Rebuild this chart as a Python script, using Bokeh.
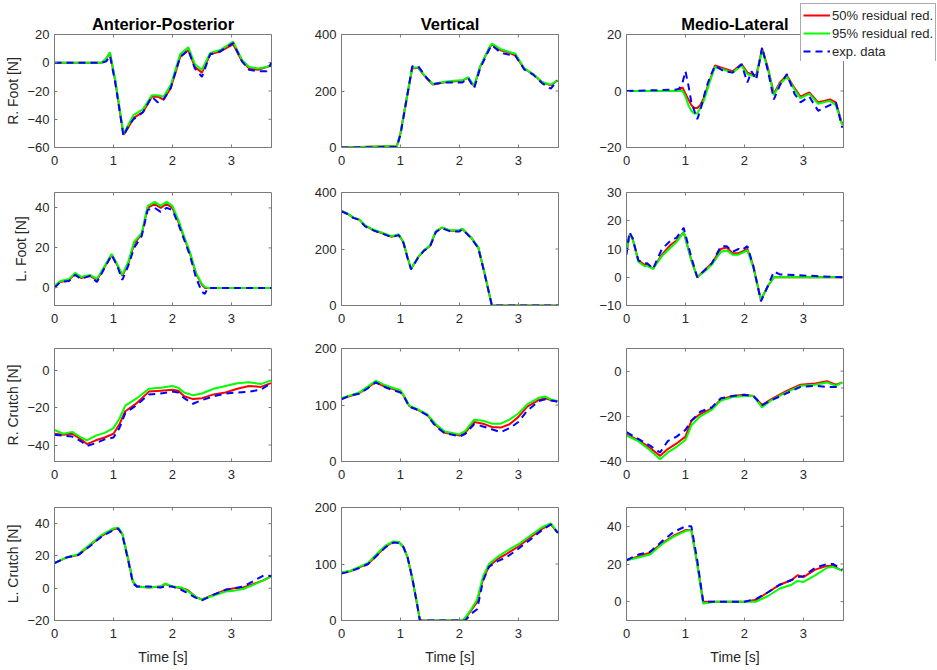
from bokeh.plotting import figure
from bokeh.layouts import column, row
from bokeh.models import Range1d, FixedTicker, Legend, LegendItem, GridBox
from bokeh.embed import file_html
from bokeh.resources import INLINE

# ---------------- data ----------------
COL_TITLES = ["Anterior-Posterior", "Vertical", "Medio-Lateral"]
ROW_LABELS = ["R. Foot [N]", "L. Foot [N]", "R. Crutch [N]", "L. Crutch [N]"]
SERIES_NAMES = ["50% residual red.", "95% residual red.", "exp. data"]
X_TICKS = [0, 1, 2, 3]
X_MAX = 3.68

# Row 1: R. Foot
T_AP_RF = [0, 0.8, 0.88, 0.94, 1.03, 1.17, 1.25, 1.34, 1.5, 1.65, 1.75, 1.85, 1.97, 2.13, 2.27, 2.38, 2.5, 2.64, 2.81, 3.03, 3.18, 3.3, 3.45, 3.6, 3.68]
RED_AP_RF = [0, 0, 3, 7, -13, -51, -46, -39, -35, -24, -24, -26, -18, 4, 9, -3, -7, 6, 8, 13, 1, -4, -5, -3, -2]
GRN_AP_RF = [0, 0, 3, 7.5, -12, -50, -44, -37, -33, -23, -23, -24, -16, 6, 11, -1, -5, 7, 9, 15, 2, -3, -4, -3, -1.5]
EXP_AP_RF = [0, 0, 1, 5, -14, -52, -45, -40, -35, -24, -28, -26, -18, 4, 9, -4, -10, 6, 8, 14, 1, -5, -6, -6, 0]

T_V_RF = [0, 0.94, 1.0, 1.1, 1.2, 1.3, 1.45, 1.55, 1.75, 1.9, 2.05, 2.15, 2.25, 2.35, 2.5, 2.55, 2.7, 2.85, 2.95, 3.1, 3.25, 3.4, 3.55, 3.66]
RED_V_RF = [0, 5, 50, 168, 280, 282, 243, 223, 231, 234, 237, 247, 216, 285, 350, 365, 344, 335, 325, 279, 259, 231, 220, 237]
GRN_V_RF = [0, 5, 50, 170, 283, 283, 245, 225, 233, 236, 238, 248, 218, 287, 352, 368, 348, 338, 332, 280, 260, 232, 222, 238]
EXP_V_RF = [0, 2, 45, 165, 288, 288, 245, 224, 230, 230, 230, 245, 210, 280, 345, 362, 335, 328, 325, 276, 258, 228, 208, 237]

T_ML_RF = [0, 0.85, 0.9, 0.95, 1.0, 1.05, 1.1, 1.15, 1.2, 1.25, 1.3, 1.35, 1.4, 1.5, 1.65, 1.8, 1.95, 2.05, 2.12, 2.2, 2.3, 2.4, 2.5, 2.6, 2.72, 2.85, 2.95, 3.1, 3.25, 3.35, 3.45, 3.55, 3.66]
RED_ML_RF = [0, 0, 0.5, 1.3, -1, -3, -5, -6, -6, -5, -3, 0, 3, 9, 8, 7, 9.5, 6.5, 6, 5.5, 15, 8, -1, 3, 5.5, 1, -2, -0.5, -4, -3.5, -3, -4, -12]
GRN_ML_RF = [0, 0, 0, 0, -2, -5, -7, -8, -8, -6, -4, -1, 2.5, 8.5, 7.5, 6.5, 9, 6, 5.5, 5, 14.5, 7.5, -1.5, 2.5, 5, 0.5, -2.5, -1, -4.5, -4, -3.5, -5, -12]
EXP_ML_RF = [0, 0.5, 1, 3, 7, 2, -4, -7, -10, -7, -3, 1, 4, 9, 7, 6.5, 9.5, 3, 7, 4, 15.5, 7, -3, 2, 6, -1, -4, -2, -7, -6, -5, -4, -13]

# Row 2: L. Foot
T_AP_LF = [0, 0.1, 0.25, 0.35, 0.45, 0.6, 0.72, 0.85, 0.97, 1.07, 1.15, 1.25, 1.35, 1.48, 1.58, 1.7, 1.8, 1.9, 2.0, 2.1, 2.2, 2.3, 2.4, 2.5, 2.55, 2.6, 3.68]
RED_AP_LF = [1, 3, 4, 7, 5, 6, 4, 10.5, 16.5, 11, 6, 12, 22, 27, 40, 42, 40, 42, 40, 33, 25, 17, 7, 1.5, 0, 0, 0]
GRN_AP_LF = [1, 3.5, 4.5, 7.5, 5.5, 6.5, 4.5, 11, 17, 11.5, 6.5, 13, 23, 27.5, 41, 43, 41, 43, 41, 34, 25.5, 17.5, 7.5, 2, 0.5, 0, 0]
EXP_AP_LF = [0, 3, 3.5, 6.5, 4.5, 6, 3, 10, 16.5, 10.5, 4, 11, 20, 26, 39, 40, 38, 40, 39, 32, 24, 16, 5, -2, -3, 0, 0]

T_V_LF = [0, 0.1, 0.2, 0.3, 0.4, 0.55, 0.7, 0.85, 0.97, 1.05, 1.12, 1.18, 1.3, 1.4, 1.5, 1.6, 1.7, 1.85, 2.0, 2.05, 2.2, 2.32, 2.42, 2.55, 3.67]
RED_V_LF = [335, 325, 311, 304, 282, 266, 255, 243, 250, 224, 170, 130, 171, 195, 210, 262, 275, 265, 265, 271, 240, 205, 120, 0, 0]
GRN_V_LF = [335, 325, 312, 305, 284, 268, 257, 245, 252, 225, 170, 130, 172, 196, 212, 263, 276, 266, 266, 272, 240, 206, 120, 0, 0]
EXP_V_LF = [333, 324, 310, 303, 280, 265, 254, 242, 249, 222, 168, 128, 170, 194, 208, 260, 274, 262, 262, 270, 238, 203, 118, 0, 0]

T_ML_LF = [0, 0.05, 0.1, 0.2, 0.3, 0.35, 0.45, 0.6, 0.75, 0.85, 0.97, 1.1, 1.2, 1.35, 1.45, 1.6, 1.7, 1.8, 1.9, 1.95, 2.05, 2.15, 2.28, 2.4, 2.5, 2.6, 3.66]
RED_ML_LF = [9, 15, 14, 6, 4.5, 4.5, 3, 8, 11.5, 13, 16, 6, 0, 3, 5, 10, 10.5, 8.5, 8.5, 9, 10, 4, -8, -3, 0, 0, 0]
GRN_ML_LF = [9, 15, 14, 5.5, 4, 4, 3, 7.5, 10.5, 12.5, 16, 6, 0, 2.5, 4.5, 9, 9.5, 8, 8, 8.5, 9.5, 3.5, -8, -3, 0, 0, 0]
EXP_ML_LF = [8, 16, 14, 6, 5, 5, 3, 10, 13, 14, 17.5, 7, 0, 3, 5, 11, 11, 9, 10, 9.5, 11, 4, -8.5, -3, 2, 1, 0]

# Row 3: R. Crutch
T_AP_RC = [0, 0.15, 0.3, 0.45, 0.55, 0.7, 0.85, 1.0, 1.1, 1.2, 1.4, 1.6, 1.8, 2.0, 2.1, 2.2, 2.35, 2.5, 2.7, 2.9, 3.1, 3.3, 3.5, 3.67]
RED_AP_RC = [-34, -34.5, -34, -37, -39.5, -37.5, -36, -34, -29, -22, -17.5, -11.5, -11, -10.5, -11, -14, -15.5, -15, -13, -12, -10, -8.5, -9, -7]
GRN_AP_RC = [-32, -34, -33, -36, -37.5, -35, -33.5, -31, -26, -19, -15, -10, -9.5, -8.5, -9.5, -12, -13.5, -12.5, -10, -8.5, -7, -6.5, -7.5, -5.5]
EXP_AP_RC = [-34.5, -35, -35.5, -38, -40.5, -39, -37, -36, -31, -23, -18.5, -13, -12.5, -11.5, -12, -15, -18, -16, -14, -12.5, -12, -11.5, -10.5, -7]

T_V_RC = [0, 0.15, 0.3, 0.45, 0.58, 0.7, 0.85, 1.0, 1.05, 1.15, 1.3, 1.45, 1.6, 1.75, 1.9, 2.0, 2.1, 2.25, 2.4, 2.55, 2.7, 2.85, 3.0, 3.15, 3.35, 3.45, 3.55, 3.66]
RED_V_RC = [112, 116, 121, 131, 141, 134, 129, 124, 117, 98, 91, 83, 64, 51, 48, 46, 51, 70, 67, 61, 60, 66, 79, 97, 109, 112, 109, 106]
GRN_V_RC = [112, 117, 122, 133, 143, 137, 131, 126, 118, 99, 92, 84, 66, 53, 50, 48, 54, 74, 72, 67, 67, 74, 85, 101, 113, 115, 110, 107]
EXP_V_RC = [110, 117, 120, 130, 140, 133, 127, 122, 117, 97, 91, 82, 62, 50, 47, 44, 49, 66, 62, 57, 52, 59, 70, 90, 107, 110, 108, 106]

T_ML_RC = [0, 0.2, 0.4, 0.57, 0.7, 0.85, 1.0, 1.1, 1.25, 1.45, 1.6, 1.8, 2.0, 2.15, 2.3, 2.45, 2.7, 2.95, 3.2, 3.4, 3.55, 3.66]
RED_ML_RC = [-28, -30.5, -34, -37.5, -34.5, -32, -29, -22, -19, -16.5, -12.5, -11, -10.5, -11, -15, -12.5, -9, -6, -5.5, -4.5, -6, -5]
GRN_ML_RC = [-28.5, -31, -35, -39, -36, -33.5, -30.5, -24, -20, -17, -13, -11.5, -11, -11, -16, -13, -9.5, -6.5, -6, -5, -6.5, -5]
EXP_ML_RC = [-27, -30, -33, -36, -31, -29, -26, -22, -18, -16, -12, -11, -10.5, -11, -15, -13, -10, -7, -6.5, -7, -7, -7.5]

# Row 4: L. Crutch
T_AP_LC = [0, 0.2, 0.4, 0.6, 0.8, 1.0, 1.08, 1.15, 1.25, 1.33, 1.4, 1.6, 1.8, 1.88, 2.0, 2.15, 2.25, 2.4, 2.5, 2.7, 2.9, 3.05, 3.2, 3.4, 3.55, 3.68]
RED_AP_LC = [15.5, 19, 20.5, 26.5, 32.5, 36.5, 37, 33.5, 18, 4, 1, 0.5, 1, 2.5, 1, 0, -1, -5.5, -7, -4, -1, 0, 0.5, 3, 5, 7.5]
GRN_AP_LC = [15.5, 19, 21, 27, 33, 37, 37.5, 34, 18, 4, 1, 0.5, 1, 3, 1, 0.5, -1.5, -5.5, -7, -4.5, -2, -1.5, -0.5, 2.5, 5, 7.5]
EXP_AP_LC = [15.5, 19, 20.5, 26, 32, 36, 37, 33, 17, 3, 1, 1, 0.5, 1, 1, -1, -3, -6, -7.5, -4, -1, 0, 1, 5, 8, 7.5]

T_V_LC = [0, 0.15, 0.3, 0.45, 0.6, 0.75, 0.88, 0.97, 1.05, 1.12, 1.2, 1.28, 1.33, 2.05, 2.1, 2.2, 2.3, 2.4, 2.5, 2.65, 2.8, 3.0, 3.2, 3.4, 3.55, 3.67]
RED_V_LC = [85, 87, 94, 100, 116, 131, 139, 139, 130, 112, 75, 30, 0, 0, 4, 18, 33, 73, 96, 109, 118, 131, 147, 162, 170, 155]
GRN_V_LC = [85, 88, 95, 102, 118, 133, 140, 139, 130, 112, 75, 30, 0, 0, 5, 20, 37, 78, 100, 113, 123, 135, 150, 165, 172, 155]
EXP_V_LC = [83, 87, 93, 100, 115, 130, 138, 137, 130, 112, 75, 30, 0, 0, 0, 12, 20, 70, 95, 105, 112, 127, 143, 160, 170, 155]

T_ML_LC = [0, 0.2, 0.4, 0.6, 0.8, 1.0, 1.1, 1.2, 1.3, 1.5, 2.0, 2.2, 2.4, 2.6, 2.8, 2.9, 3.0, 3.2, 3.4, 3.5, 3.62, 3.66]
RED_ML_LC = [22, 24, 26, 31, 35, 38, 38, 20, 0, 0, 0, 1, 5, 9, 11.5, 14, 13, 17, 19, 19, 17, 16.5]
GRN_ML_LC = [22, 23.5, 25, 30.5, 34.5, 37.5, 38, 20, -1, 0, 0, 0, 3, 7, 9, 11, 10.5, 14, 18, 18.5, 17, 16.5]
EXP_ML_LC = [22, 25, 26.5, 32, 37, 40, 40, 22, 0, 0, 0, 1.5, 5, 9, 11.5, 13, 13.5, 18, 20, 20, 18, 17]

Y_LIMITS = [
    [(-60, 20), (0, 400), (-20, 20)],
    [(-8.8, 47.7), (0, 400), (-10, 30)],
    [(-48.8, 11.5), (0, 200), (-40, 10)],
    [(-20, 50), (0, 200), (-10, 50)],
]
Y_TICKS = [
    [[-60, -40, -20, 0, 20], [0, 200, 400], [-20, 0, 20]],
    [[0, 20, 40], [0, 200, 400], [-10, 0, 10, 20, 30]],
    [[-40, -20, 0], [0, 100, 200], [-40, -20, 0]],
    [[-20, 0, 20, 40], [0, 100, 200], [0, 20, 40]],
]

# table built from the named arrays
PANELS = [
    [(T_AP_RF, RED_AP_RF, GRN_AP_RF, EXP_AP_RF), (T_V_RF, RED_V_RF, GRN_V_RF, EXP_V_RF), (T_ML_RF, RED_ML_RF, GRN_ML_RF, EXP_ML_RF)],
    [(T_AP_LF, RED_AP_LF, GRN_AP_LF, EXP_AP_LF), (T_V_LF, RED_V_LF, GRN_V_LF, EXP_V_LF), (T_ML_LF, RED_ML_LF, GRN_ML_LF, EXP_ML_LF)],
    [(T_AP_RC, RED_AP_RC, GRN_AP_RC, EXP_AP_RC), (T_V_RC, RED_V_RC, GRN_V_RC, EXP_V_RC), (T_ML_RC, RED_ML_RC, GRN_ML_RC, EXP_ML_RC)],
    [(T_AP_LC, RED_AP_LC, GRN_AP_LC, EXP_AP_LC), (T_V_LC, RED_V_LC, GRN_V_LC, EXP_V_LC), (T_ML_LC, RED_ML_LC, GRN_ML_LC, EXP_ML_LC)],
]

# ---------------- styling / layout ----------------
FONT = "Liberation Sans"
TXT = "#262626"
BOX = "#7a7a7a"
RED, GREEN, BLUE = "#ff0000", "#00ff00", "#0000ff"
DASH = "7 5"
FW, FH = 217, 113
TICK_PX = 3
COL_BORDERS = [(54, 20), (50, 20), (48, 94)]
ROW_BORDERS = [(34, 26), (19, 26), (17, 26), (20, 50)]
YLABEL_STANDOFF = [3, 3, 3, 3]


def style_axis(ax, ticks, standoff):
    ax.ticker = FixedTicker(ticks=ticks)
    ax.major_tick_in = TICK_PX
    ax.major_tick_out = 0
    ax.minor_tick_line_color = None
    ax.axis_line_color = BOX
    ax.major_tick_line_color = BOX
    ax.major_label_text_font = FONT
    ax.major_label_text_color = TXT
    ax.major_label_text_font_size = "13px"
    ax.major_label_standoff = standoff


rows = []
for ri in range(4):
    figs = []
    for ci in range(3):
        t, red, grn, exp = PANELS[ri][ci]
        ylo, yhi = Y_LIMITS[ri][ci]
        yt = Y_TICKS[ri][ci]
        bl, br = COL_BORDERS[ci]
        bt, bb = ROW_BORDERS[ri]
        p = figure(width=bl + FW + br, height=bt + FH + bb, output_backend="svg",
                   toolbar_location=None, x_range=Range1d(0, X_MAX), y_range=Range1d(ylo, yhi),
                   min_border_left=bl, min_border_right=br, min_border_top=bt, min_border_bottom=bb)
        p.grid.visible = False
        p.outline_line_color = BOX
        p.background_fill_color = "white"
        p.border_fill_color = "white"
        xax = p.below[0]
        yax = p.left[0]
        style_axis(xax, X_TICKS, 8)
        style_axis(yax, yt, 5)

        # inward box ticks on the top and right edges (MATLAB "box on")
        dy = (yhi - ylo) * TICK_PX / FH
        dx = X_MAX * TICK_PX / FW
        p.segment(x0=X_TICKS, y0=[yhi] * len(X_TICKS), x1=X_TICKS, y1=[yhi - dy] * len(X_TICKS),
                  line_color=BOX, line_width=1)
        p.segment(x0=[X_MAX] * len(yt), y0=yt, x1=[X_MAX - dx] * len(yt), y1=yt,
                  line_color=BOX, line_width=1)

        if ci == 0:
            yax.axis_label = ROW_LABELS[ri]
            yax.axis_label_text_font = FONT
            yax.axis_label_text_font_size = "14px"
            yax.axis_label_text_font_style = "normal"
            yax.axis_label_text_color = TXT
            yax.axis_label_standoff = YLABEL_STANDOFF[ri]
        if ri == 3:
            xax.axis_label = "Time [s]"
            xax.axis_label_text_font = FONT
            xax.axis_label_text_font_size = "14px"
            xax.axis_label_text_font_style = "normal"
            xax.axis_label_text_color = TXT
            xax.axis_label_standoff = 8
        if ri == 0:
            p.title.text = COL_TITLES[ci]
            p.title.align = "center"
            p.title.text_font = FONT
            p.title.text_font_size = "16.5px"
            p.title.text_font_style = "bold"
            p.title.text_color = "#000000"
            p.title.standoff = 3

        p.line(t, red, line_color=RED, line_width=2)
        p.line(t, grn, line_color=GREEN, line_width=2)
        p.line(t, exp, line_color=BLUE, line_width=2, line_dash=DASH)
        figs.append(p)
    rows.append(row(*figs, spacing=0))

main = column(*rows, spacing=0)

# legend drawn in its own small overlay figure so that it may overlap the top-right axes
LEG_W, LEG_H = 137, 59
legfig = figure(width=LEG_W, height=LEG_H, output_backend="svg", toolbar_location=None,
                x_range=Range1d(0, 1), y_range=Range1d(0, 1), x_axis_location=None,
                y_axis_location=None, min_border=0, margin=(2, 0, 0, 799))
legfig.grid.visible = False
legfig.outline_line_color = None
legfig.background_fill_alpha = 0
legfig.border_fill_alpha = 0
# proxy renderers for the legend keys: their points lie outside the (0..1) view, so only the keys show
PROXY_X = [0, 1]
PROXY_Y = [-5, -5]
lr1 = legfig.line(x=PROXY_X, y=PROXY_Y, line_color=RED, line_width=2)
lr2 = legfig.line(x=PROXY_X, y=PROXY_Y, line_color=GREEN, line_width=2)
lr3 = legfig.line(x=PROXY_X, y=PROXY_Y, line_color=BLUE, line_width=2, line_dash=DASH)
leg = Legend(items=[LegendItem(label=SERIES_NAMES[0], renderers=[lr1]),
                    LegendItem(label=SERIES_NAMES[1], renderers=[lr2]),
                    LegendItem(label=SERIES_NAMES[2], renderers=[lr3])],
             location="top_left", padding=2, spacing=0, margin=1,
             glyph_width=27, glyph_height=18, label_height=18, label_standoff=2,
             label_text_font=FONT, label_text_font_size="13px", label_text_color=TXT,
             border_line_color="#555555", border_line_width=1,
             background_fill_color="white", background_fill_alpha=1.0)
legfig.add_layout(leg, "center")

page = GridBox(children=[(main, 0, 0), (legfig, 0, 0)])
open("out.html", "w").write(file_html(page, INLINE))
